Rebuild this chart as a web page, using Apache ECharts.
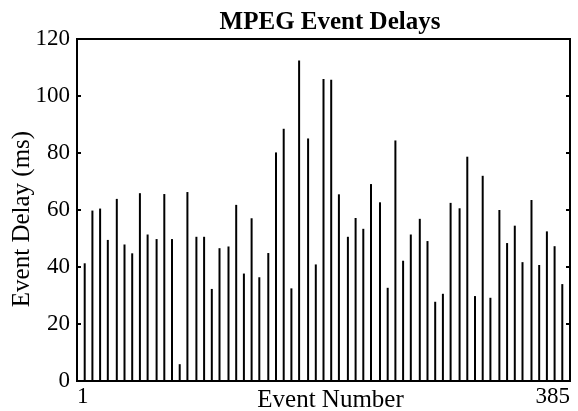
<!DOCTYPE html>
<html>
<head>
<meta charset="utf-8">
<script src="https://cdn.jsdelivr.net/npm/echarts@6/dist/echarts.min.js"></script>
<style>
  html, body { margin: 0; padding: 0; background: #fff; }
  #chart { width: 578px; height: 411px; }
</style>
</head>
<body>
<div id="chart"></div>
<script>
// Event numbers (x) at which a delay was recorded
const eventNumbers = [
  7, 13, 19, 25, 32, 38, 44, 50, 56, 63,
  69, 75, 81, 87, 94, 100, 106, 112, 119, 125,
  131, 137, 143, 150, 156, 162, 168, 174, 181, 187,
  193, 199, 205, 212, 218, 224, 230, 237, 243, 249,
  255, 261, 268, 274, 280, 286, 292, 299, 305, 311,
  317, 323, 330, 336, 342, 348, 355, 361, 367, 373,
  379
];
// Event delays in ms
const delays = [
  41.3, 59.8, 60.5, 49.5, 63.9, 47.9, 44.8, 65.9, 51.4, 49.8,
  65.6, 49.8, 5.9, 66.3, 50.6, 50.6, 32.3, 46.6, 47.2, 61.8,
  37.7, 57.1, 36.4, 44.9, 80.2, 88.5, 32.5, 112.5, 85.1, 40.9,
  106.0, 105.7, 65.5, 50.6, 57.2, 53.4, 69.1, 62.7, 32.7, 84.4,
  42.2, 51.4, 56.9, 49.1, 27.8, 30.6, 62.5, 60.6, 78.7, 29.8,
  72.0, 29.2, 60.0, 48.4, 54.5, 41.7, 63.5, 40.7, 52.5, 47.3,
  34.0
];
const xTickLabels = [1, 385];
const yTicks = [0, 20, 40, 60, 80, 100, 120];

const FONT = "'Liberation Serif', 'Times New Roman', serif";

const chart = echarts.init(document.getElementById('chart'), null, { renderer: 'canvas' });

const yAxisCommon = {
  type: 'value',
  min: yTicks[0],
  max: yTicks[yTicks.length - 1],
  interval: yTicks[1] - yTicks[0],
  splitLine: { show: false },
  axisLine: { show: true, lineStyle: { color: '#000', width: 2 } },
  axisTick: { show: true, inside: true, length: 4, lineStyle: { color: '#000', width: 2 } }
};

chart.setOption({
  animation: false,
  backgroundColor: '#fff',
  title: {
    text: 'MPEG Event Delays',
    left: 330,
    top: 10,
    padding: 0,
    textAlign: 'center',
    textStyle: { fontFamily: FONT, fontWeight: 'bold', fontSize: 25, color: '#000' }
  },
  grid: {
    left: 77, right: 8, top: 39, bottom: 30,
    containLabel: false,
    outerBoundsMode: 'none',
    show: true, borderColor: '#000', borderWidth: 2, backgroundColor: 'transparent'
  },
  xAxis: {
    type: 'value',
    min: xTickLabels[0],
    max: xTickLabels[1],
    name: 'Event Number',
    nameLocation: 'middle',
    nameGap: 7,
    nameMoveOverlap: false,
    nameTextStyle: { fontFamily: FONT, fontSize: 25, color: '#000', verticalAlign: 'top', padding: [0, 0, 0, 14] },
    splitLine: { show: false },
    axisLine: { show: true, lineStyle: { color: '#000', width: 2 } },
    axisTick: { show: false },
    axisLabel: {
      customValues: xTickLabels,
      alignMinLabel: 'left',
      alignMaxLabel: 'right',
      margin: 4,
      fontFamily: FONT, fontSize: 23, color: '#000'
    }
  },
  yAxis: [
    Object.assign({}, yAxisCommon, {
      position: 'left',
      name: 'Event Delay (ms)',
      nameLocation: 'middle',
      nameGap: 42,
      nameMoveOverlap: false,
      nameTextStyle: { fontFamily: FONT, fontSize: 25, color: '#000', padding: [0, 18, 0, 0] },
      axisLabel: { margin: 7, fontFamily: FONT, fontSize: 23, color: '#000' }
    }),
    Object.assign({}, yAxisCommon, {
      position: 'right',
      axisLabel: { show: false }
    })
  ],
  series: [{
    type: 'bar',
    yAxisIndex: 0,
    barWidth: 2,
    itemStyle: { color: '#000' },
    data: eventNumbers.map((e, i) => [e, delays[i]])
  }]
});
</script>
</body>
</html>
